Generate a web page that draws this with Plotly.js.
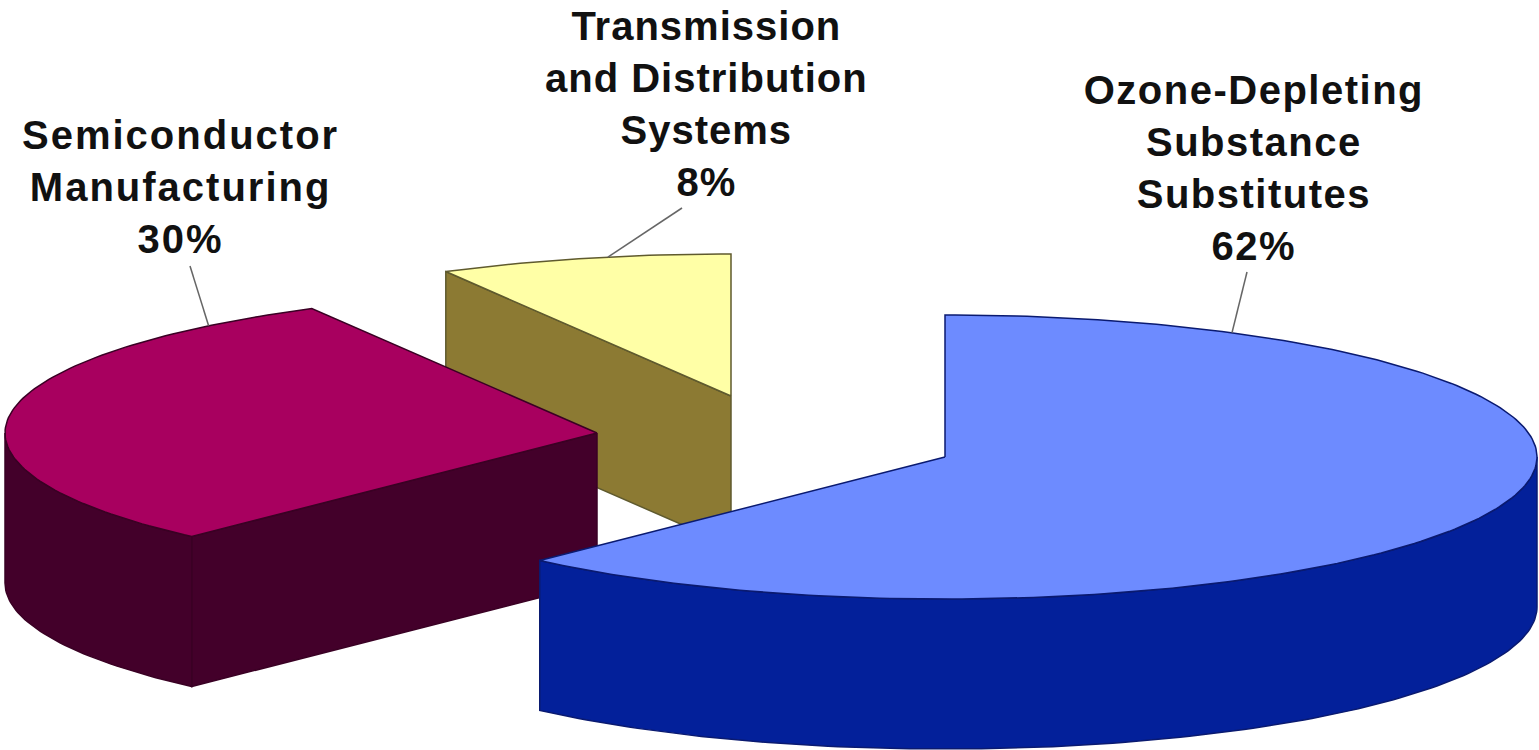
<!DOCTYPE html>
<html>
<head>
<meta charset="utf-8">
<script src="https://cdn.plot.ly/plotly-3.0.1.min.js"></script>
<style>
html,body{margin:0;padding:0;background:#fff}
#chart{width:1539px;height:750px}
/* tracked-out label lettering, per label */
.annotation[data-index="0"] text{letter-spacing:1.5px}
.annotation[data-index="1"] text{letter-spacing:2px}
.annotation[data-index="2"] text{letter-spacing:1px}
</style>
</head>
<body>
<div id="chart"></div>
<script>
// Emissions shares by source, percent
const categories = ["Ozone-Depleting Substance Substitutes", "Semiconductor Manufacturing", "Transmission and Distribution Systems"];
const labelLines = [["Ozone-Depleting", "Substance", "Substitutes"], ["Semiconductor", "Manufacturing"], ["Transmission", "and Distribution", "Systems"]];
const shares = [62, 30, 8];
const topColors = ["#6d8bff", "#a8005f", "#ffffa6"];
const wallColors = ["#03209a", "#43002a", "#8c7a33"];
const edgeColors = ["#0a1a70", "#3a0024", "#5f5a2e"];

// Placement of each exploded slice and its label on the page
const sliceCentres = [[945, 457], [597, 433], [731, 396]];
const labelPos = [[1254, 168], [180, 187], [706, 104]];
const leaderAngles = [29, 319, 348];
const leaderEnds = [[1247, 272], [190, 266], [682, 208]];

// Projection of the tilted disc onto the plot plane
const RX = 592, RY = 142, DEPTH = 150;

const pt = (c, deg, dz = 0) => {
  const a = deg * Math.PI / 180;
  return [c[0] + RX * Math.sin(a), c[1] - RY * Math.cos(a) + dz];
};

function arc(c, from, to, dz = 0) {
  const out = [];
  const n = Math.max(2, Math.ceil(Math.abs(to - from)));
  for (let i = 0; i <= n; i++) out.push(pt(c, from + (to - from) * i / n, dz));
  return out;
}

const poly = (pts, fill, edge, name) => ({
  type: "scatter", mode: "lines", name, fill: "toself", fillcolor: fill,
  x: pts.map(p => p[0]), y: pts.map(p => p[1]),
  line: {color: edge, width: 1.5}, hoverinfo: "name", showlegend: false
});

// Slices run clockwise from twelve o'clock
let start = 0;
const slices = shares.map((v, i) => {
  const from = start, to = start + v / 100 * 360;
  start = to;
  return {i, from, to, c: sliceCentres[i]};
});

function sliceTraces({i, from, to, c}) {
  const out = [], name = categories[i];
  const wall = (a) => {
    const e = pt(c, a), e2 = pt(c, a, DEPTH), c2 = [c[0], c[1] + DEPTH];
    out.push(poly([c, e, e2, c2, c], wallColors[i], edgeColors[i], name));
  };
  // a cut face shows when its outward normal points down the page
  if (-Math.sin(from * Math.PI / 180) > 1e-6) wall(from);
  if (Math.sin(to * Math.PI / 180) > 1e-6) wall(to);
  // rim, visible only on the near half of the disc
  const a0 = Math.max(from, 90), a1 = Math.min(to, 270);
  if (a1 > a0) {
    const rim = arc(c, a0, a1).concat(arc(c, a1, a0, DEPTH));
    rim.push(rim[0]);
    out.push(poly(rim, wallColors[i], edgeColors[i], name));
  }
  const top = [c].concat(arc(c, from, to));
  top.push(c);
  out.push(poly(top, topColors[i], edgeColors[i], name));
  return out;
}

// Far slices first so the nearer ones overlap them
const traces = [2, 1, 0].flatMap(i => sliceTraces(slices[i]));

const annotations = shares.map((v, i) => ({
  x: labelPos[i][0], y: labelPos[i][1], xref: "x", yref: "y",
  text: labelLines[i].concat(v + "%").join("<br>"),
  showarrow: false, align: "center", xanchor: "center", yanchor: "middle",
  font: {family: "Liberation Sans, Arial, sans-serif", size: 40, color: "#111", weight: 700}
}));

// Thin leaders from the rim of each slice up to its label
const shapes = slices.map(s => {
  const p = pt(s.c, leaderAngles[s.i]);
  return {type: "line", xref: "x", yref: "y", x0: p[0], y0: p[1],
    x1: leaderEnds[s.i][0], y1: leaderEnds[s.i][1], line: {color: "#666", width: 1.5}};
});

Plotly.newPlot("chart", traces, {
  width: 1539, height: 750, margin: {l: 0, r: 0, t: 0, b: 0},
  paper_bgcolor: "#fff", plot_bgcolor: "#fff", showlegend: false,
  xaxis: {range: [0, 1539], visible: false, fixedrange: true},
  yaxis: {range: [750, 0], visible: false, fixedrange: true},
  annotations, shapes
}, {displayModeBar: false, staticPlot: true});
</script>
</body>
</html>
